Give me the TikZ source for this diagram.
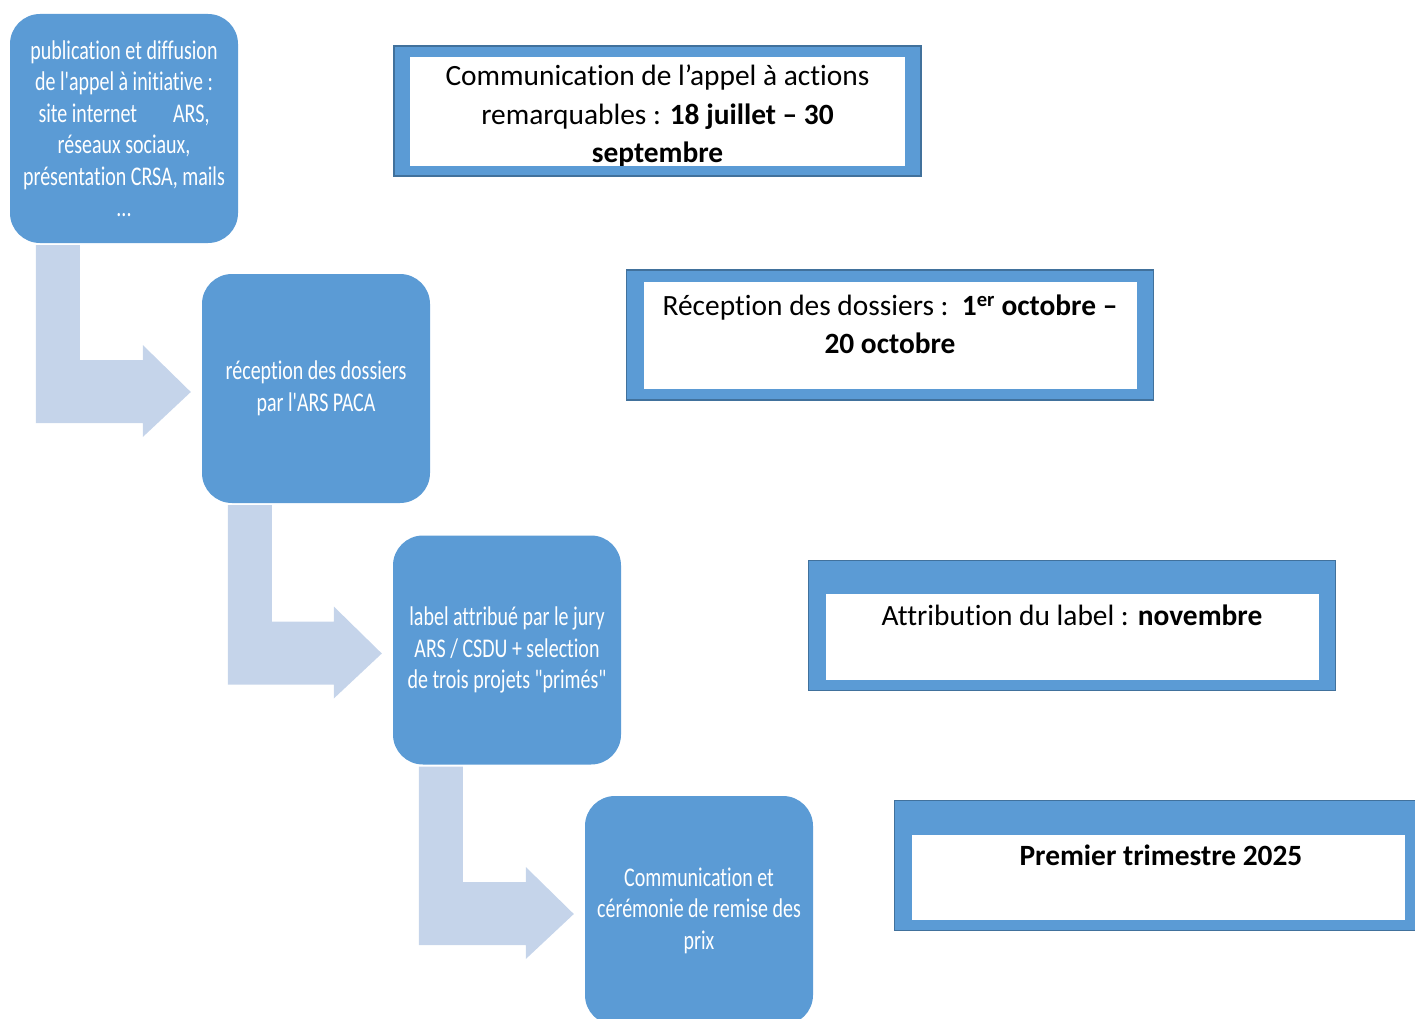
\documentclass[tikz,border=0pt]{standalone}
\usepackage{fontspec}
\setmainfont[RawFeature={-liga;-clig;-dlig;-calt}]{Carlito}
\newfontfamily\boxfont[FakeStretch=0.74,Ligatures=TeXOff,RawFeature={-liga;-clig;-dlig;-calt}]{Carlito}
\usetikzlibrary{calc}
\definecolor{boxblue}{HTML}{5B9BD5}
\definecolor{edgeblue}{HTML}{41719C}
\definecolor{arrowblue}{HTML}{C5D4EA}
\begin{document}
\begin{tikzpicture}
    [x=1pt,y=-1pt,
     stepbox/.style={rounded corners=30pt, fill=boxblue, minimum width=228pt, minimum height=229pt, inner sep=0pt,
                     text=white, align=center, font=\boxfont\fontsize{27}{31.5}\selectfont},
     datebox/.style={draw=edgeblue, line width=1.5pt, fill=boxblue, minimum width=527pt, minimum height=130pt},
     datetext/.style={align=center, inner sep=0pt, font=\fontsize{29.4}{38.5}\selectfont},
     bentarrow/.style={fill=arrowblue}]
    \useasboundingbox (0,0) rectangle (1415,1019);
    \clip (0,0) rectangle (1415,1019);
    % steps
    \node[stepbox] (pub) at (124,128.5){publication et diffusion\\de l'appel à initiative :\\site internet\hspace*{36pt}ARS,\\réseaux sociaux,\\présentation CRSA, mails\\...};
    \node[stepbox] (rec) at (316,388.5){réception des dossiers\\par l'ARS PACA};
    \node[stepbox] (lab) at (507,650){label attribué par le jury\\ARS / CSDU + selection\\de trois projets "primés"};
    \node[stepbox] (com) at (699,910.5){Communication et\\cérémonie de remise des\\prix};
    % bent arrows
    \foreach \a/\b in {pub/rec, rec/lab, lab/com}
      \fill[bentarrow] ($(\a.south west)+(26,2)$) -- ++(44,0) |- ($(\b.west)+(-59,-28.5)$) -- ++(0,-15)
        -- ($(\b.west)+(-11,3.5)$) -- ($(\b.west)+(-59,48.5)$) -- ++(0,-14) -| ($(\a.south west)+(26,2)$) -- cycle;
    % dates
    \node[datebox] (d1) at (657.5,111){};
    \node[datebox] (d2) at (890,335){};
    \node[datebox] (d3) at (1072,625.5){};
    \node[datebox] (d4) at (1158,865.5){};
    \fill[white] ($(d1.north west)+(17,12)$) rectangle ($(d1.south east)+(-17,-11)$);
    \fill[white] ($(d2.north west)+(18,13)$) rectangle ($(d2.south east)+(-17,-12)$);
    \fill[white] ($(d3.north west)+(18,34)$) rectangle ($(d3.south east)+(-17,-11)$);
    \fill[white] ($(d4.north west)+(18,35)$) rectangle ($(d4.south east)+(-17,-11)$);
    \begin{scope}
      \clip ($(d1.north west)+(17,12)$) rectangle ($(d1.south east)+(-17,-11)$);
      \node[datetext] (t1) at (657.5,116){Communication de l’appel à actions\\remarquables : \textbf{18 juillet – 30}\\\textbf{septembre}};
    \end{scope}
    \node[datetext] (t2) at (890,324.5){Réception des dossiers :\ \ \textbf{1\textsuperscript{er} octobre –}\\\textbf{20 octobre}};
    \node[datetext] (t3) at (1072,615){Attribution du label : \textbf{novembre}};
    \node[datetext] (t4) at (1161,855){\textbf{Premier trimestre 2025}};
\end{tikzpicture}
\end{document}
